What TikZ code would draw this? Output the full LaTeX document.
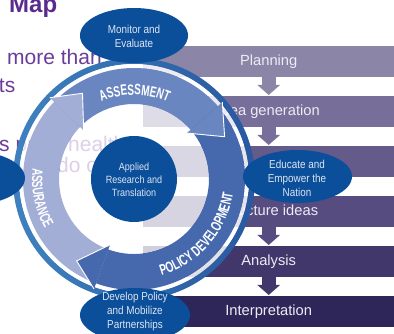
\documentclass[tikz,border=0pt]{standalone}
\usepackage{fontspec}
\setmainfont{Liberation Sans}
\newfontfamily\narrowfont[FakeStretch=0.86]{Liberation Sans}
\newfontfamily\wheelfont[FakeStretch=0.66]{Liberation Sans Bold}
\usetikzlibrary{arrows.meta,decorations.text,shapes.geometric}

\definecolor{barA}{HTML}{8B85A8}
\definecolor{barB}{HTML}{776F9A}
\definecolor{barC}{HTML}{645B8B}
\definecolor{barD}{HTML}{564C80}
\definecolor{barE}{HTML}{41376B}
\definecolor{barF}{HTML}{2E2559}
\definecolor{bartxt}{HTML}{EDEBF3}
\definecolor{bubble}{HTML}{0B4F9B}
\definecolor{bubbletxt}{HTML}{DDE5F1}
\definecolor{ringL}{HTML}{3F82BF}
\definecolor{ringR}{HTML}{2858A0}
\definecolor{assessC}{HTML}{6A86C1}
\definecolor{policyC}{HTML}{4669AD}
\definecolor{assureC}{HTML}{A3AED7}
\definecolor{slidetxt}{HTML}{6A3D9B}
\definecolor{slidehead}{HTML}{5A2B8E}

\newcommand\wheellabel{\wheelfont\fontsize{15}{15}\selectfont}

\begin{document}
\begin{tikzpicture}[x=1pt,y=1pt,
  stepbar/.style={minimum width=251, minimum height=31, inner sep=0, anchor=north west,
    text=bartxt, font=\fontsize{14.7}{14.7}\selectfont, text height=10.6, text depth=3},
  steparrow/.style={line width=14, -{Triangle[length=10,width=22]}, shorten >=1},
  bubblebox/.style={ellipse, fill=bubble, inner sep=0},
  bubbletext/.style={align=center, text=bubbletxt, inner sep=0,
    font=\narrowfont\fontsize{11.5}{14}\selectfont},
  slide/.style={text=slidetxt, font=\fontsize{21}{21}\selectfont, inner sep=0},
  headedge/.style={white, line width=0.9, line join=miter},
  bandtext/.style={decorate, decoration={text along path, text align=center,
    text color=white, text={|\wheellabel|#1}}}
]
\useasboundingbox (0,0) rectangle (394,334);
\clip (0,0) rectangle (394,334);
\fill[white] (0,0) rectangle (394,334);

% slide text lying behind the graphic
\node[slide, anchor=base west, text=slidehead, font=\bfseries\fontsize{24}{24}\selectfont] (map) at (9,321) {Map};
\node[slide, anchor=base west] (more) at (7,269) {more than};
\node[slide, anchor=base east] (ts) at (15.5,241) {ts};
\node[slide, anchor=base west] (spu) at (-1,182) {s pu};
\node[slide, anchor=base west] (health) at (68,182) {health};
\node[slide, anchor=base west] (doo) at (57,161) {do o};

% process steps
\node[stepbar, fill=barA] (plan) at (143,288) {Planning};
\node[stepbar, fill=barB] (idea) at (143,238) {Idea generation};
\node[stepbar, fill=barC] (third) at (143,188) {};
\node[stepbar, fill=barD] (struct) at (143,138) {Structure ideas};
\node[stepbar, fill=barE] (anal) at (143,88) {Analysis};
\node[stepbar, fill=barF] (interp) at (143,38) {Interpretation};
\draw[steparrow, barA] (plan.south) -- (idea.north);
\draw[steparrow, barB] (idea.south) -- (third.north);
\draw[steparrow, barC] (third.south) -- (struct.north);
\draw[steparrow, barD] (struct.south) -- (anal.north);
\draw[steparrow, barE] (anal.south) -- (interp.north);

% the wheel
\begin{scope}[shift={(134,155)}]
  \shade[left color=ringL, right color=ringR, even odd rule]
    (0,0) circle[radius=121] (0,0) circle[radius=115];
  \fill[white, opacity=0.85, even odd rule]
    (0,0) circle[radius=115] (0,0) circle[radius=111];
  \fill[white, opacity=0.76] (0,0) circle[radius=75];
  % arrow bodies
  \fill[assureC] (250:111) arc[start angle=250, end angle=136, radius=111]
    -- (136:75) arc[start angle=136, end angle=250, radius=75] -- cycle;
  \fill[assessC] (136:111) arc[start angle=136, end angle=41, radius=111]
    -- (41:75) arc[start angle=41, end angle=136, radius=75] -- cycle;
  \fill[policyC] (41:111) arc[start angle=41, end angle=-110, radius=111]
    -- (-110:75) arc[start angle=-110, end angle=41, radius=75] -- cycle;
  % arrow heads
  \fill[assureC] (136:117) -- (121:100) -- (136:70) -- cycle;
  \draw[headedge] (136:117) -- (121:100) -- (136:70);
  \fill[assessC] (41:117) -- (25:100) -- (41:70) -- cycle;
  \draw[headedge] (41:117) -- (25:100) -- (41:70);
  \fill[policyC] (250:117) -- (235:100) -- (250:70) -- cycle;
  \draw[headedge] (250:117) -- (235:100) -- (250:70);
  % band labels
  \path[bandtext=ASSESSMENT] (129:84) arc[start angle=129, end angle=50, radius=84];
  \path[bandtext=ASSURANCE] (150:102) arc[start angle=150, end angle=233, radius=102];
  \path[bandtext=POLICY DEVELOPMENT] (-100:100) arc[start angle=-100, end angle=18, radius=100];
\end{scope}

% core and outer activities
\node[circle, fill=bubble, minimum size=86, inner sep=0] (core) at (134,155) {};
\node[bubbletext, font=\narrowfont\fontsize{10.5}{13}\selectfont] (coret) at (134,154.5)
  {Applied\\Research and\\Translation};
\node[bubblebox, minimum width=108, minimum height=55] (monitor) at (134,298.5) {};
\node[bubbletext] (monitort) at (134,298) {Monitor and\\Evaluate};
\node[bubblebox, minimum width=109, minimum height=53] (educate) at (297.5,157.5) {};
\node[bubbletext] (educatet) at (297,155.5) {Educate and\\Empower the\\Nation};
\node[bubblebox, minimum width=110, minimum height=54] (develop) at (135,19) {};
\node[bubbletext] (developt) at (135,22.5) {Develop Policy\\and Mobilize\\Partnerships};
\node[bubblebox, minimum width=110, minimum height=54] (assure) at (-30,156) {};
\end{tikzpicture}
\end{document}
